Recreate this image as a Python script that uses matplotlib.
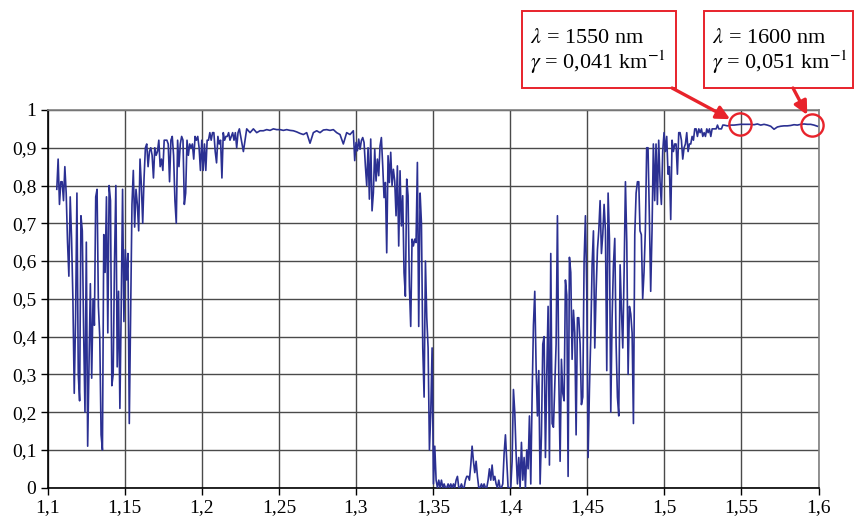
import numpy as np
import matplotlib
matplotlib.use('Agg')
import matplotlib.pyplot as plt
from matplotlib.patches import Rectangle

plt.rcParams['font.family'] = ['Liberation Serif', 'DejaVu Serif']
plt.rcParams['mathtext.fontset'] = 'stix'

# transmission readings, piece by piece (start wl, end wl, values)
seg1_wl = (1.1060, 1.2244)
seg1 = [0.79, 0.87, 0.75, 0.81, 0.81, 0.76, 0.85, 0.78, 0.65, 0.56, 0.77, 0.66, 0.50, 0.25,
        0.45, 0.78, 0.30, 0.23, 0.72, 0.68, 0.41, 0.20, 0.65, 0.11, 0.32, 0.54, 0.29, 0.50,
        0.43, 0.77, 0.79, 0.48, 0.40, 0.14, 0.10, 0.67, 0.57, 0.77, 0.41, 0.80, 0.76, 0.27,
        0.30, 0.60, 0.80, 0.32, 0.52, 0.21, 0.48, 0.79, 0.44, 0.63, 0.55, 0.62, 0.17, 0.46,
        0.75, 0.84, 0.69, 0.79, 0.75, 0.68, 0.87, 0.80, 0.70, 0.82, 0.90, 0.91, 0.85, 0.89,
        0.90, 0.88, 0.82, 0.90, 0.88, 0.89, 0.92, 0.85, 0.87, 0.84, 0.92, 0.92, 0.92, 0.91,
        0.81, 0.92, 0.93, 0.88, 0.76, 0.70, 0.92, 0.85, 0.91, 0.93, 0.92, 0.75, 0.78, 0.92,
        0.88, 0.91, 0.90, 0.91, 0.87, 0.93, 0.92, 0.93, 0.90, 0.84, 0.92, 0.84, 0.91, 0.84,
        0.92, 0.92, 0.94, 0.92, 0.94, 0.94, 0.89, 0.86, 0.93, 0.91, 0.92, 0.82, 0.94, 0.92,
        0.93, 0.93, 0.94, 0.92, 0.93, 0.94, 0.92, 0.94, 0.90, 0.94, 0.95]

seg2_wl = (1.2270, 1.2983)
seg2 = [0.89, 0.95, 0.94, 0.95, 0.94, 0.945, 0.945, 0.948, 0.946, 0.95, 0.948, 0.948,
        0.946, 0.948, 0.946, 0.945, 0.942, 0.938, 0.935, 0.94, 0.912, 0.94, 0.945, 0.94,
        0.947, 0.948, 0.946, 0.948, 0.94, 0.935, 0.91, 0.94, 0.935, 0.945]

seg3_wl = (1.2992, 1.3407)
seg3 = [0.866, 0.914, 0.892, 0.923, 0.896, 0.919, 0.927, 0.914, 0.852, 0.80, 0.90, 0.764,
        0.923, 0.733, 0.781, 0.896, 0.812, 0.87, 0.826, 0.905, 0.927, 0.852, 0.768, 0.808,
        0.622, 0.879, 0.808, 0.888, 0.80, 0.843, 0.812, 0.72, 0.852, 0.64, 0.839, 0.693,
        0.773, 0.569, 0.507, 0.817, 0.773, 0.534, 0.427, 0.658, 0.64, 0.658, 0.649, 0.861,
        0.427]

seg4_wl = (1.3416, 1.4834)
seg4 = [0.78, 0.70, 0.37, 0.24, 0.60, 0.45, 0.37, 0.10, 0.20, 0.37, 0.01, 0.11, 0.02, 0.0,
        0.02, 0.0, 0.02, 0.0, 0.01, 0.0, 0.0, 0.01, 0.0, 0.01, 0.0, 0.01, 0.0, 0.02, 0.03,
        0.0, 0.0, 0.01, 0.0, 0.0, 0.02, 0.03, 0.03, 0.02, 0.06, 0.11, 0.07, 0.04, 0.07, 0.03,
        0.0, 0.0, 0.01, 0.0, 0.01, 0.0, 0.0, 0.02, 0.05, 0.02, 0.06, 0.02, 0.03, 0.01, 0.0,
        0.02, 0.0, 0.0, 0.01, 0.09, 0.14, 0.07, 0.0, 0.0, 0.0, 0.07, 0.26, 0.20, 0.09, 0.01,
        0.08, 0.0, 0.12, 0.02, 0.08, 0.0, 0.10, 0.05, 0.19, 0.01, 0.24, 0.43, 0.52, 0.32,
        0.19, 0.31, 0.01, 0.14, 0.38, 0.40, 0.08, 0.30, 0.48, 0.06, 0.62, 0.17, 0.16, 0.27,
        0.38, 0.72, 0.30, 0.07, 0.34, 0.25, 0.23, 0.55, 0.51, 0.03, 0.61, 0.57, 0.34, 0.47,
        0.41, 0.14, 0.45, 0.45, 0.38, 0.22, 0.24, 0.60, 0.72, 0.52, 0.08, 0.26, 0.40, 0.59,
        0.68, 0.37, 0.52, 0.63, 0.68, 0.76, 0.62, 0.67, 0.75, 0.68, 0.31, 0.78, 0.66, 0.20,
        0.45, 0.59, 0.66, 0.38, 0.24, 0.19, 0.59, 0.47, 0.37, 0.57, 0.81, 0.65, 0.30, 0.48,
        0.46, 0.41, 0.17, 0.67, 0.78, 0.81, 0.81]

seg5_wl = (1.4842, 1.5379)
seg5 = [0.68, 0.67, 0.50, 0.57, 0.68, 0.90, 0.90, 0.72, 0.52, 0.68, 0.91, 0.76, 0.91, 0.75,
        0.92, 0.81, 0.75, 0.89, 0.94, 0.89, 0.93, 0.83, 0.85, 0.71, 0.92, 0.89, 0.91, 0.91,
        0.83, 0.94, 0.94, 0.92, 0.87, 0.90, 0.91, 0.94, 0.89, 0.91, 0.91, 0.93, 0.92, 0.95,
        0.95, 0.93, 0.95, 0.94, 0.95, 0.93, 0.94, 0.93, 0.95, 0.94, 0.95, 0.93, 0.95, 0.95,
        0.95, 0.95, 0.96, 0.95, 0.95, 0.95, 0.96]

seg6_wl = (1.5387, 1.5992)
seg6 = [0.960, 0.958, 0.960, 0.960, 0.961, 0.962, 0.962, 0.962, 0.962, 0.961, 0.963, 0.960,
        0.962, 0.960, 0.957, 0.949, 0.955, 0.957, 0.958, 0.958, 0.959, 0.961, 0.960, 0.962,
        0.963, 0.962, 0.962, 0.960, 0.957]

x_ticks = [1.1, 1.15, 1.2, 1.25, 1.3, 1.35, 1.4, 1.45, 1.5, 1.55, 1.6]
x_labels = ['1,1', '1,15', '1,2', '1,25', '1,3', '1,35', '1,4', '1,45', '1,5', '1,55', '1,6']
y_ticks = [0, 0.1, 0.2, 0.3, 0.4, 0.5, 0.6, 0.7, 0.8, 0.9, 1]
y_labels = ['0', '0,1', '0,2', '0,3', '0,4', '0,5', '0,6', '0,7', '0,8', '0,9', '1']

# marked points and their notes
mark_wl = [1.549, 1.596]
mark_text = [r'$\lambda$ = 1550 nm' + '\n' + r'$\gamma$ = 0,041 km$^{\mathrm{-1}}$',
             r'$\lambda$ = 1600 nm' + '\n' + r'$\gamma$ = 0,051 km$^{\mathrm{-1}}$']

segs = [(seg1_wl, seg1), (seg2_wl, seg2), (seg3_wl, seg3),
        (seg4_wl, seg4), (seg5_wl, seg5), (seg6_wl, seg6)]
wl = np.concatenate([np.linspace(a, b, len(v)) for (a, b), v in segs])
tr = np.concatenate([np.array(v) for _, v in segs])

red = '#e8232b'
fig = plt.figure(figsize=(8.55, 5.22), dpi=100)
ax = fig.add_axes([0.0556, 0.0657, 0.9018, 0.7236])
ax.plot(wl, tr, color='#2b3092', lw=1.2, zorder=3)

ax.set_xlim(1.1, 1.6)
ax.set_ylim(0, 1)
ax.set_xticks(x_ticks)
ax.set_xticklabels(x_labels)
ax.set_yticks(y_ticks)
ax.set_yticklabels(y_labels)
ax.tick_params(labelsize=14, length=5, width=1, direction='out', pad=3, colors='black')
ax.grid(True, color='#4a4a4a', lw=1.0)
ax.set_axisbelow(True)
for s in ['left', 'bottom']:
    ax.spines[s].set_color('black')
    ax.spines[s].set_linewidth(1.2)
for s in ['top', 'right']:
    ax.spines[s].set_color('#808080')
    ax.spines[s].set_linewidth(1.2)

mark_y = np.interp(mark_wl, wl, tr)
ax.plot(mark_wl, mark_y, 'o', ms=16, mfc='none', mec=red, mew=1.7, clip_on=False, zorder=5)

# boxes (figure fraction)
boxes = [(0.6105, 0.8314, 0.180, 0.1475), (0.8234, 0.8314, 0.174, 0.1475)]
starts = [(0.786, 0.8314), (0.9275, 0.8314)]
for (bx, by, bw, bh), txt, st, mx, my in zip(boxes, mark_text, starts, mark_wl, mark_y):
    fig.patches.append(Rectangle((bx, by), bw, bh, transform=fig.transFigure,
                                 fill=False, ec=red, lw=1.4))
    fig.text(bx + 0.009, by + bh / 2 - 0.006, txt, fontsize=16, va='center', ha='left',
             linespacing=1.0)
    ax.annotate('', xy=(mx, my), xycoords='data', xytext=st, textcoords='figure fraction',
                arrowprops=dict(arrowstyle='-|>', color=red, lw=2.4, mutation_scale=20,
                                shrinkA=0, shrinkB=8),
                annotation_clip=False)

plt.savefig('out.png', dpi=100)
